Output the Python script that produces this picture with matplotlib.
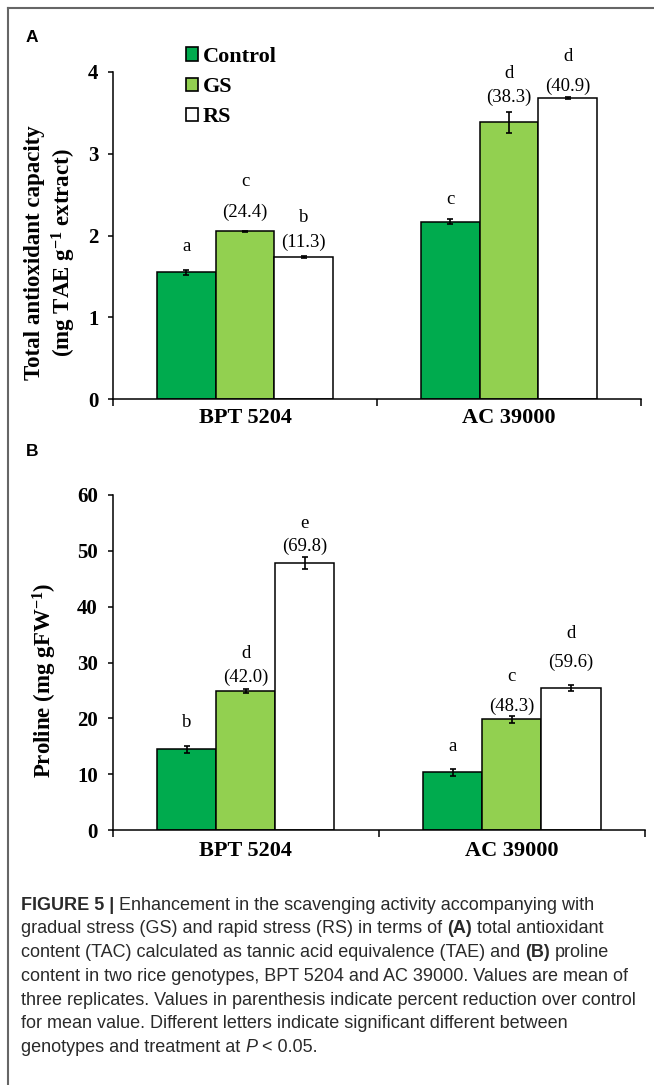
import numpy as np
import matplotlib
matplotlib.use('Agg')
import matplotlib.pyplot as plt
from matplotlib.patches import Patch
from matplotlib.lines import Line2D

plt.rcParams['font.family'] = 'Liberation Serif'
plt.rcParams['mathtext.fontset'] = 'custom'
plt.rcParams['mathtext.rm'] = 'Liberation Serif:bold'
plt.rcParams['mathtext.it'] = 'Liberation Serif:italic:bold'
plt.rcParams['mathtext.bf'] = 'Liberation Serif:bold'

# data (rows = genotype, cols = Control / GS / RS)
genotypes = ['BPT 5204', 'AC 39000']
treatments = ['Control', 'GS', 'RS']

tac_means = [[1.55, 2.05, 1.74], [2.17, 3.38, 3.68]]
tac_errs = [[0.03, 0.01, 0.01], [0.03, 0.13, 0.01]]
tac_letters = [['a', 'c', 'b'], ['c', 'd', 'd']]
tac_pct = [[None, '24.4', '11.3'], [None, '38.3', '40.9']]

pro_means = [[14.45, 24.9, 47.8], [10.3, 19.85, 25.45]]
pro_errs = [[0.6, 0.3, 1.1], [0.65, 0.6, 0.6]]
pro_letters = [['b', 'd', 'e'], ['a', 'c', 'd']]
pro_pct = [[None, '42.0', '69.8'], [None, '48.3', '59.6']]

# label offsets above bar top (pixels)
tac_letter_off = [[25.6, 50, 39.4], [21.7, 49, 41.7]]
tac_pct_off = [[0, 19.4, 14], [0, 25.6, 12]]
pro_letter_off = [[26.6, 37, 39.4], [26.3, 42.3, 54.4]]
pro_pct_off = [[0, 14, 16.7], [0, 13.3, 25.4]]

colors = ['#00ab4e', '#92d050', '#ffffff']
bw = 0.222
W, H = 654, 1085

fig = plt.figure(figsize=(W / 100, H / 100), dpi=100)


def fx(px):
    return px / W


def fy(px):
    return 1 - px / H


def draw_panel(ax, means, errs, letters, pct, letter_off, pct_off, ymax, ystep, label_pad):
    means = np.array(means)
    errs = np.array(errs)
    x = np.arange(len(genotypes))
    for j in range(len(treatments)):
        xs = x + (j - 1) * bw
        ax.bar(xs, means[:, j], bw, color=colors[j], edgecolor='black', linewidth=1.1, zorder=2)
        ax.errorbar(xs, means[:, j], yerr=errs[:, j], fmt='none', ecolor='black',
                    elinewidth=1.2, capsize=2.3, capthick=1.2, zorder=3)
        for i in range(len(x)):
            ax.annotate(letters[i][j], (xs[i], means[i, j]), xytext=(0, letter_off[i][j] * 0.72),
                        textcoords='offset points', ha='center', va='center', fontsize=13.5)
            if pct[i][j] is not None:
                ax.annotate('(' + pct[i][j] + ')', (xs[i], means[i, j]),
                            xytext=(0, pct_off[i][j] * 0.72), textcoords='offset points',
                            ha='center', va='center', fontsize=13.5)
    ax.set_xlim(-0.5, len(genotypes) - 0.5)
    ax.set_ylim(0, ymax)
    ax.set_yticks(np.arange(0, ymax + ystep / 2, ystep))
    ax.set_xticks([-0.5, 0.5, 1.5])
    ax.set_xticklabels([])
    ax.set_xticks(x, labels=genotypes, minor=True)
    ax.tick_params(axis='x', which='major', direction='out', length=5, width=1.1)
    ax.tick_params(axis='x', which='minor', length=0, pad=label_pad)
    ax.tick_params(axis='y', direction='out', length=3.5, width=1.1, pad=7)
    for lab in ax.get_yticklabels():
        lab.set_fontweight('bold')
        lab.set_fontsize(15)
    for lab in ax.get_xticklabels(minor=True):
        lab.set_fontweight('bold')
        lab.set_fontsize(16)
    for s in ['top', 'right']:
        ax.spines[s].set_visible(False)
    for s in ['left', 'bottom']:
        ax.spines[s].set_linewidth(1.1)


ax_a = fig.add_axes([fx(113), fy(399.3), fx(641) - fx(113), fy(71.7) - fy(399.3)])
draw_panel(ax_a, tac_means, tac_errs, tac_letters, tac_pct, tac_letter_off, tac_pct_off, 4, 1, 6)

ax_b = fig.add_axes([fx(112.5), fy(830), fx(645) - fx(112.5), fy(495) - fy(830)])
draw_panel(ax_b, pro_means, pro_errs, pro_letters, pro_pct, pro_letter_off, pro_pct_off, 60, 10, 8)

handles = [Patch(facecolor=c, edgecolor='black', linewidth=1.2) for c in colors]
ax_a.legend(handles, treatments, loc='upper left', bbox_to_anchor=(fx(186), fy(47)),
            bbox_transform=fig.transFigure, frameon=False, borderpad=0, borderaxespad=0,
            handlelength=0.55, handleheight=0.55, handletextpad=0.2, labelspacing=0.46,
            prop=dict(family='Liberation Serif', weight='bold', size=16))

fig.text(fx(51), fy(253), 'Total antioxidant capacity\n(mg TAE g$^{-1}$ extract)', rotation=90,
         ha='center', va='center', multialignment='center', fontsize=16.5, fontweight='bold',
         linespacing=1.2)
fig.text(fx(45), fy(680), 'Proline (mg gFW$^{-1}$)', rotation=90, ha='center', va='center',
         fontsize=16.5, fontweight='bold')

fig.text(fx(32), fy(37), 'A', family='Liberation Sans', fontweight='bold', fontsize=12.5,
         ha='center', va='center')
fig.text(fx(32), fy(452), 'B', family='Liberation Sans', fontweight='bold', fontsize=12.5,
         ha='center', va='center')

# frame
fig.add_artist(Line2D([fx(8), fx(8)], [0, fy(8)], transform=fig.transFigure, color='#666666', lw=1.5))
fig.add_artist(Line2D([fx(8), 1], [fy(8), fy(8)], transform=fig.transFigure, color='#666666', lw=1.5))

# caption
caption = [
    [('FIGURE 5 |', 'bold', 'normal'), ('Enhancement in the scavenging activity accompanying with', 'normal', 'normal')],
    [('gradual stress (GS) and rapid stress (RS) in terms of', 'normal', 'normal'), ('(A)', 'bold', 'normal'),
     ('total antioxidant', 'normal', 'normal')],
    [('content (TAC) calculated as tannic acid equivalence (TAE) and', 'normal', 'normal'), ('(B)', 'bold', 'normal'),
     ('proline', 'normal', 'normal')],
    [('content in two rice genotypes, BPT 5204 and AC 39000. Values are mean of', 'normal', 'normal')],
    [('three replicates. Values in parenthesis indicate percent reduction over control', 'normal', 'normal')],
    [('for mean value. Different letters indicate significant different between', 'normal', 'normal')],
    [('genotypes and treatment at', 'normal', 'normal'), ('P', 'normal', 'italic'), ('< 0.05.', 'normal', 'normal')],
]
cap_kw = dict(family='Liberation Sans', fontsize=13, color='#2a2a2a', va='center', ha='left')
renderer = fig.canvas.get_renderer()
t1 = fig.text(0, 0, 'a a', **cap_kw)
t2 = fig.text(0, 0, 'aa', **cap_kw)
space = (t1.get_window_extent(renderer).width - t2.get_window_extent(renderer).width) / W
t1.remove()
t2.remove()

for k, parts in enumerate(caption):
    x = fx(21)
    y = fy(905 + 23.8 * k)
    for text, weight, style in parts:
        t = fig.text(x, y, text, fontweight=weight, fontstyle=style, **cap_kw)
        x = t.get_window_extent(renderer).x1 / W + space

fig.savefig('out.png', dpi=100)
